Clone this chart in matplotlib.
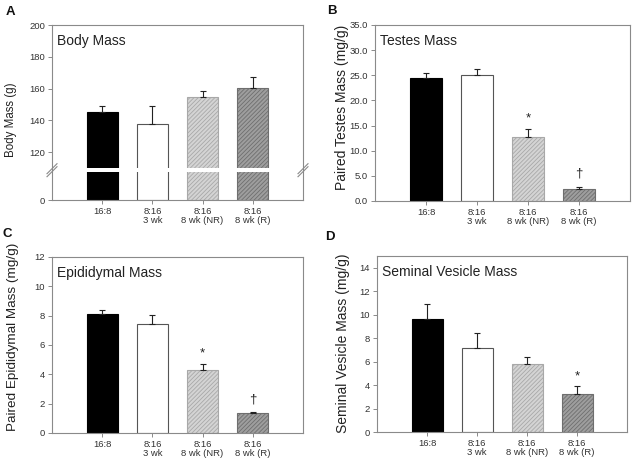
import numpy as np
import matplotlib
matplotlib.use('Agg')
import matplotlib.pyplot as plt

plt.rcParams['font.family'] = ['Liberation Sans', 'DejaVu Sans']
plt.rcParams['hatch.linewidth'] = 0.6

groups = ['16:8', '8:16\n3 wk', '8:16\n8 wk (NR)', '8:16\n8 wk (R)']

body_mean = [145.5, 137.8, 154.8, 160.2]
body_err = [3.8, 11.2, 3.6, 7.4]

testes_mean = [24.4, 25.0, 12.8, 2.4]
testes_err = [1.1, 1.2, 1.6, 0.4]
testes_marks = ['', '', '*', '†']

epid_mean = [8.13, 7.43, 4.30, 1.37]
epid_err = [0.23, 0.59, 0.42, 0.05]
epid_marks = ['', '', '*', '†']

sv_mean = [9.63, 7.14, 5.78, 3.26]
sv_err = [1.27, 1.30, 0.57, 0.62]
sv_marks = ['', '', '', '*']

FACE = ['black', 'white', '#d4d4d4', '#9e9e9e']
EDGE = ['black', '#555555', '#a8a8a8', '#6e6e6e']
HATCH = [None, None, '////////', '////////']
SPINE = '#8a8a8a'
TXT = '#333333'

# broken axis for panel A: 0..L shown, gap, U..200 shown
BRK_L, BRK_U, EPS = 18.75, 108.75, 1e-3


def fwd(y):
    y = np.asarray(y, dtype=float)
    mid = BRK_L + EPS * (y - BRK_L)
    hi = BRK_L + EPS * (BRK_U - BRK_L) + (y - BRK_U)
    return np.where(y <= BRK_L, y, np.where(y >= BRK_U, hi, mid))


def inv(t):
    t = np.asarray(t, dtype=float)
    t_u = BRK_L + EPS * (BRK_U - BRK_L)
    mid = BRK_L + (t - BRK_L) / EPS
    hi = BRK_U + (t - t_u)
    return np.where(t <= BRK_L, t, np.where(t >= t_u, hi, mid))


def draw_panel(ax, means, errs, ylim, yticks, yfmt, title, ylabel, ylsize, lblpos, marks=None):
    x = np.arange(len(means))
    for i in range(len(means)):
        ax.bar(x[i], means[i], width=0.62, color=FACE[i], edgecolor=EDGE[i],
               hatch=HATCH[i], linewidth=0.8, zorder=1)
    ax.errorbar(x, means, yerr=[np.zeros(len(errs)), errs], fmt='none',
                ecolor='#222222', elinewidth=0.8, capsize=2.5, capthick=0.8, zorder=2)
    if marks:
        for i, m in enumerate(marks):
            if m:
                off = 10 if m == '*' else 13
                ax.annotate(m, (x[i], means[i] + errs[i]), xytext=(0, off),
                            textcoords='offset pixels', ha='center', va='center',
                            fontsize=9.5, color='#222222')
    ax.set_xlim(-1, 4)
    ax.set_ylim(*ylim)
    ax.set_yticks(yticks)
    ax.set_yticklabels([yfmt.format(v) for v in yticks])
    ax.set_xticks(x)
    ax.set_xticklabels(groups, linespacing=0.95)
    ax.tick_params(axis='both', direction='out', length=3, width=0.7, color=SPINE,
                   labelsize=6.8, labelcolor=TXT, pad=2)
    for s in ax.spines.values():
        s.set_color(SPINE)
        s.set_linewidth(0.8)
    ax.text(0.02, 0.95, title, transform=ax.transAxes, ha='left', va='top',
            fontsize=10, color='#222222')
    ax.set_ylabel(ylabel, fontsize=ylsize, color='#222222')
    ax.yaxis.set_label_coords(*lblpos)


fig = plt.figure(figsize=(6.35, 4.66), dpi=100)
W, H = 635.0, 466.0
axA = fig.add_axes([52 / W, 266 / H, 251 / W, 175 / H])
axB = fig.add_axes([375 / W, 265 / H, 255 / W, 176 / H])
axC = fig.add_axes([52 / W, 33 / H, 251 / W, 176 / H])
axD = fig.add_axes([377 / W, 34 / H, 250 / W, 176 / H])

axA.set_yscale('function', functions=(fwd, inv))
draw_panel(axA, body_mean, body_err, (0, 200), [0, 120, 140, 160, 180, 200], '{:.0f}',
           'Body Mass', 'Body Mass (g)', 8.3, (-0.14, 0.457))
axA.axhspan(BRK_L - 1.0, BRK_U + 1.0, color='white', lw=0, zorder=1.5)
# break marks on both spines
f = float(fwd(BRK_L) / fwd(200))
dx, dy = 5 / 251, 5 / 175
for xs in (0, 1):
    for sh in (-1.5 / 175, 1.5 / 175):
        axA.plot([xs - dx, xs + dx], [f - dy + sh, f + dy + sh], transform=axA.transAxes,
                 color=SPINE, lw=0.8, clip_on=False, zorder=5)

draw_panel(axB, testes_mean, testes_err, (0, 35), np.arange(0, 36, 5), '{:.1f}',
           'Testes Mass', 'Paired Testes Mass (mg/g)', 10, (-0.10, 0.53), testes_marks)
draw_panel(axC, epid_mean, epid_err, (0, 12), np.arange(0, 13, 2), '{:.0f}',
           'Epididymal Mass', 'Paired Epididymal Mass (mg/g)', 9.7, (-0.13, 0.547), epid_marks)
draw_panel(axD, sv_mean, sv_err, (0, 15), np.arange(0, 15, 2), '{:.0f}',
           'Seminal Vesicle Mass', 'Seminal Vesicle Mass (mg/g)', 10, (-0.106, 0.506), sv_marks)

for lab, px, py in [('A', 10, 12), ('B', 332, 11), ('C', 7, 234), ('D', 330, 237)]:
    fig.text(px / W, 1 - py / H, lab, fontsize=9.5, fontweight='bold', ha='center',
             va='center', color='#111111')

fig.savefig('out.png', dpi=100)
